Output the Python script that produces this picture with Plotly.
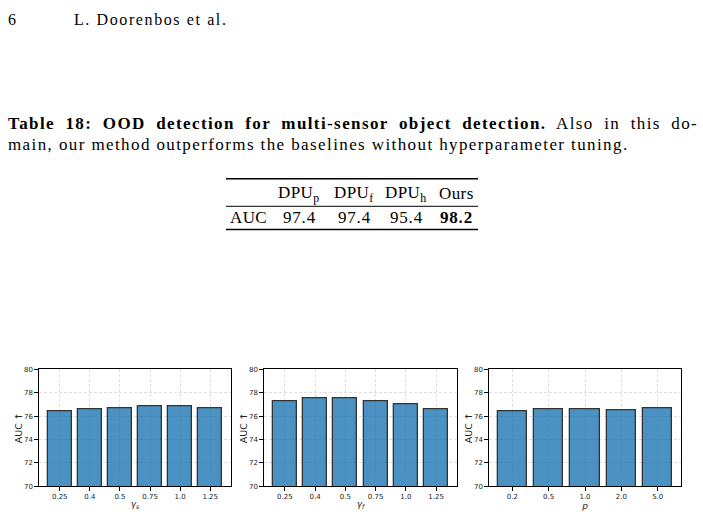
import plotly.graph_objects as go

W, H = 703, 514

# ---- data ----
gs_labels = ["0.25", "0.4", "0.5", "0.75", "1.0", "1.25"]
gs_auc = [76.4, 76.6, 76.7, 76.8, 76.8, 76.7]
gf_labels = ["0.25", "0.4", "0.5", "0.75", "1.0", "1.25"]
gf_auc = [77.3, 77.5, 77.5, 77.3, 77.0, 76.6]
p_labels = ["0.2", "0.5", "1.0", "2.0", "5.0"]
p_auc = [76.4, 76.6, 76.6, 76.5, 76.7]

table_methods = ["DPU<sub>p</sub>", "DPU<sub>f</sub>", "DPU<sub>h</sub>", "Ours"]
table_auc = ["97.4", "97.4", "95.4", "98.2"]
y_ticks = [70, 72, 74, 76, 78, 80]
y_title = "AUC ↑"

panels = [
    (gs_labels, gs_auc, "<i>γ<sub>s</sub></i>", (39, 231)),
    (gf_labels, gf_auc, "<i>γ<sub>f</sub></i>", (264, 457)),
    (p_labels, p_auc, "<i>p</i>", (489, 681)),
]

fig = go.Figure()
ytop, ybot = 371, 490
SANS = "DejaVu Sans"
SERIF = "Liberation Serif"
ann = []

for i, (labels, vals, xlab, (x0, x1)) in enumerate(panels, start=1):
    n = len(labels)
    xs = list(range(n))
    sfx = "" if i == 1 else str(i)
    fig.add_trace(go.Bar(
        x=xs, y=vals, width=0.8, opacity=0.8,
        marker=dict(color="#1f77b4", line=dict(color="black", width=1.3)),
        xaxis="x" + sfx, yaxis="y" + sfx, showlegend=False,
    ))
    margin = 0.05 * (n - 1 + 0.8)
    axis_common = dict(
        showline=True, mirror=True, linecolor="black", linewidth=1.2,
        ticks="outside", ticklen=3.5, tickwidth=0.8, tickcolor="black",
        showgrid=True, gridcolor="rgba(0,0,0,0.13)", griddash="3px,2px", gridwidth=0.8,
        zeroline=False, tickfont=dict(family=SANS, size=7, color="#222"),
    )
    fig.layout["xaxis" + sfx] = dict(
        domain=[x0 / W, x1 / W], anchor="y" + sfx,
        range=[-0.4 - margin, n - 1 + 0.4 + margin],
        tickmode="array", tickvals=xs, ticktext=labels,
        title=dict(text=xlab, font=dict(family=SANS, size=9, color="#222"), standoff=0),
        **axis_common,
    )
    fig.layout["yaxis" + sfx] = dict(
        domain=[1 - ybot / H, 1 - ytop / H], anchor="x" + sfx,
        range=[70, 80], tickmode="array", tickvals=y_ticks,
        **axis_common,
    )
    ann.append(dict(text=y_title, x=(x0 - 20.5) / W, y=1 - ((ytop + ybot) / 2) / H,
                    xref="paper", yref="paper", xanchor="center", yanchor="middle",
                    textangle=-90, showarrow=False,
                    font=dict(family=SANS, size=9.5, color="#222")))


def txt(s, x, y, size, xanchor="left", family=SERIF, ls=0.0, ws=0.0):
    if ls or ws:
        s = '<span style="letter-spacing:%.2fpx;word-spacing:%.2fpx">%s</span>' % (ls, ws, s)
    ann.append(dict(text=s, x=x / W, y=1 - y / H, xref="paper", yref="paper",
                    xanchor=xanchor, yanchor="middle", showarrow=False,
                    font=dict(family=family, size=size, color="black")))

# page header
txt("6", 6, 16, 16)
txt("L. Doorenbos et al.", 72, 16, 16, ls=1.6)

# caption
txt("<b>Table 18: OOD detection for multi-sensor object detection.</b> Also in this do-",
    6, 121, 17, ls=1.4, ws=4.8)
txt("main, our method outperforms the baselines without hyperparameter tuning.",
    6, 143, 17, ls=1.4)

# table
col_centers = [299, 354, 406, 456]
for c, m in zip(col_centers, table_methods):
    txt(m, c, 193, 17, xanchor="center", ls=0.4)
txt("AUC", 249, 217, 17, xanchor="center", ls=0.4)
for j, (c, v) in enumerate(zip(col_centers, table_auc)):
    s = "<b>" + v + "</b>" if j == 3 else v
    txt(s, c, 217, 17, xanchor="center", ls=0.8)

shapes = [
    dict(type="line", xref="paper", yref="paper", x0=226 / W, x1=478 / W,
         y0=1 - 177.5 / H, y1=1 - 177.5 / H, line=dict(color="black", width=1.5)),
    dict(type="line", xref="paper", yref="paper", x0=226 / W, x1=478 / W,
         y0=1 - 205.5 / H, y1=1 - 205.5 / H, line=dict(color="black", width=1)),
    dict(type="line", xref="paper", yref="paper", x0=226 / W, x1=478 / W,
         y0=1 - 229 / H, y1=1 - 229 / H, line=dict(color="black", width=1.5)),
]

fig.update_layout(
    width=W, height=H, margin=dict(l=0, r=0, t=0, b=0),
    paper_bgcolor="white", plot_bgcolor="white",
    annotations=ann, shapes=shapes, bargap=0,
)
fig.write_html("out.html")
